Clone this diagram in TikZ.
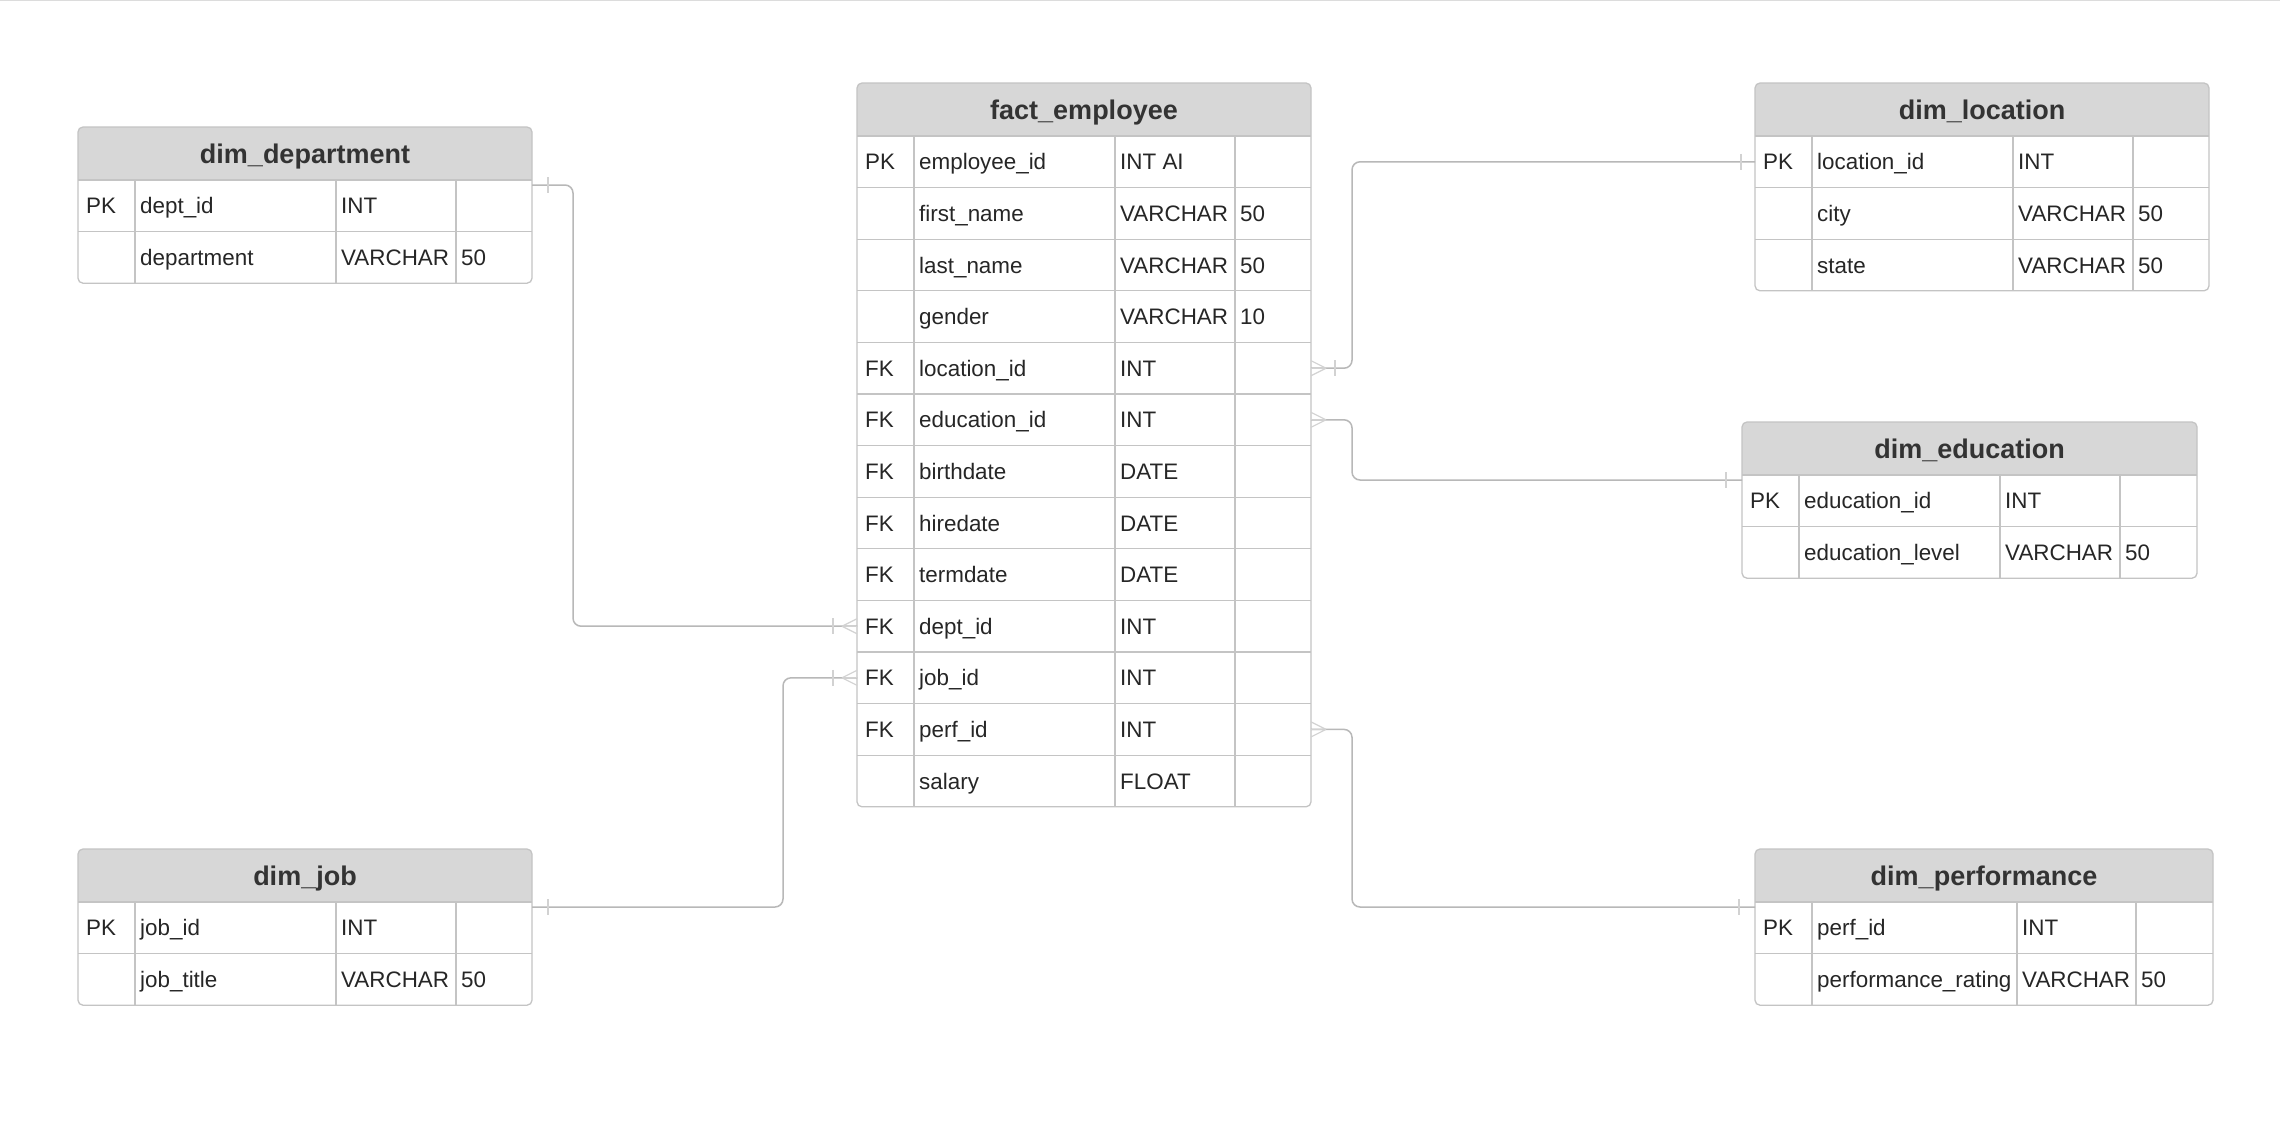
\documentclass[tikz,border=0pt]{standalone}
\usepackage{fontspec}
\setmainfont{Liberation Sans}
\usetikzlibrary{calc}

\definecolor{tblline}{HTML}{C4C4C4}
\definecolor{hdrfill}{HTML}{D7D7D7}
\definecolor{hdrtext}{HTML}{333333}
\definecolor{celltext}{HTML}{262626}
\definecolor{relline}{HTML}{B8B8B8}
\definecolor{footline}{HTML}{D2D2D2}

\tikzset{
  tblbox/.style={draw=tblline, line width=1.3pt, rounded corners=5pt, anchor=north west, inner sep=0pt, outer sep=0pt},
  grid/.style={draw=tblline, line width=1.3pt},
  hdr/.style={anchor=base, inner sep=0pt, text=hdrtext, font=\bfseries\fontsize{27}{32}\selectfont},
  cell/.style={anchor=base west, inner sep=0pt, text=celltext, font=\fontsize{22.4}{27}\selectfont},
  rel/.style={draw=relline, line width=1.5pt, rounded corners=8pt},
  crowfoot/.pic={\draw[footline, line width=1.2pt] (-15,0) -- (0,-7.5) (-15,0) -- (0,0) (-15,0) -- (0,7.5);},
  onebar/.pic={\draw[footline, line width=1.2pt] (0,-8) -- (0,8);}
}

\newcommand{\ertable}[9]{%
  \fill[hdrfill, rounded corners=5pt] (#2,#3) rectangle (#2+#4,#3+62);
  \fill[white] (#2,#3+53) rectangle (#2+#4,#3+64);
  \foreach \fkey/\fname/\ftype/\flen [count=\i from 0] in {#9} {
    \draw[grid] (#2,#3+53+51.6*\i) -- (#2+#4,#3+53+51.6*\i);
    \coordinate (#1-r\i) at (#2,#3+78.8+51.6*\i);
    \node[cell] (#1-k\i) at ($(#1-r\i)+(8,8)$) {\fkey};
    \node[cell] (#1-n\i) at ($(#1-r\i)+(62,8)$) {\fname};
    \node[cell] (#1-t\i) at ($(#1-r\i)+(#5+5,8)$) {\ftype};
    \node[cell] (#1-l\i) at ($(#1-r\i)+(#6+5,8)$) {\flen};
  }
  \draw[grid] (#2+57,#3+53) -- (#2+57,#3+53+51.6*#7);
  \draw[grid] (#2+#5,#3+53) -- (#2+#5,#3+53+51.6*#7);
  \draw[grid] (#2+#6,#3+53) -- (#2+#6,#3+53+51.6*#7);
  \node[hdr] (#1-title) at (#2+#4/2,#3+36.2) {#8};
  \node[tblbox, minimum width=#4pt, minimum height=53pt+51.6pt*#7] (#1) at (#2,#3) {};
}

\begin{document}
\begin{tikzpicture}[x=1pt,y=-1pt]
\fill[white] (0,0) rectangle (2280,1122);
\useasboundingbox (0,0) rectangle (2280,1122);
\draw[tblline!60, line width=1pt] (0,0.5) -- (2280,0.5);

\ertable{fact}{857}{83}{454}{258}{378}{13}{fact\_employee}{PK/employee\_id/INT AI/, /first\_name/VARCHAR/50, /last\_name/VARCHAR/50, /gender/VARCHAR/10, FK/location\_id/INT/, FK/education\_id/INT/, FK/birthdate/DATE/, FK/hiredate/DATE/, FK/termdate/DATE/, FK/dept\_id/INT/, FK/job\_id/INT/, FK/perf\_id/INT/, /salary/FLOAT/}
\ertable{dept}{78}{127}{454}{258}{378}{2}{dim\_department}{PK/dept\_id/INT/, /department/VARCHAR/50}
\ertable{job}{78}{849}{454}{258}{378}{2}{dim\_job}{PK/job\_id/INT/, /job\_title/VARCHAR/50}
\ertable{loc}{1755}{83}{454}{258}{378}{3}{dim\_location}{PK/location\_id/INT/, /city/VARCHAR/50, /state/VARCHAR/50}
\ertable{edu}{1742}{422}{455}{258}{378}{2}{dim\_education}{PK/education\_id/INT/, /education\_level/VARCHAR/50}
\ertable{perf}{1755}{849}{458}{262}{381}{2}{dim\_performance}{PK/perf\_id/INT/, /performance\_rating/VARCHAR/50}

\draw[rel] ([yshift=-58pt]dept.north east) -- ++(41,0) |- (fact-r9);
\draw[rel] (fact-r10) -- ++(-74,0) |- ([yshift=-58pt]job.north east);
\draw[rel] (fact.east |- fact-r4) -- ++(41,0) |- (loc-r0);
\draw[rel] (fact.east |- fact-r5) -- ++(41,0) |- ([yshift=-58pt]edu.north west);
\draw[rel] (fact.east |- fact-r11) -- ++(41,0) |- ([yshift=-58pt]perf.north west);

\pic at (fact-r9) {crowfoot};
\pic at ($(fact-r9)+(-24,0)$) {onebar};
\pic at (fact-r10) {crowfoot};
\pic at ($(fact-r10)+(-24,0)$) {onebar};
\pic[xscale=-1] at (fact.east |- fact-r4) {crowfoot};
\pic at ($(fact.east |- fact-r4)+(24,0)$) {onebar};
\pic[xscale=-1] at (fact.east |- fact-r5) {crowfoot};
\pic[xscale=-1] at (fact.east |- fact-r11) {crowfoot};
\pic at ([xshift=16pt,yshift=-58pt]dept.north east) {onebar};
\pic at ([xshift=16pt,yshift=-58pt]job.north east) {onebar};
\pic at ($(loc-r0)+(-14,0)$) {onebar};
\pic at ([xshift=-16pt,yshift=-58pt]edu.north west) {onebar};
\pic at ([xshift=-16pt,yshift=-58pt]perf.north west) {onebar};
\end{tikzpicture}
\end{document}
